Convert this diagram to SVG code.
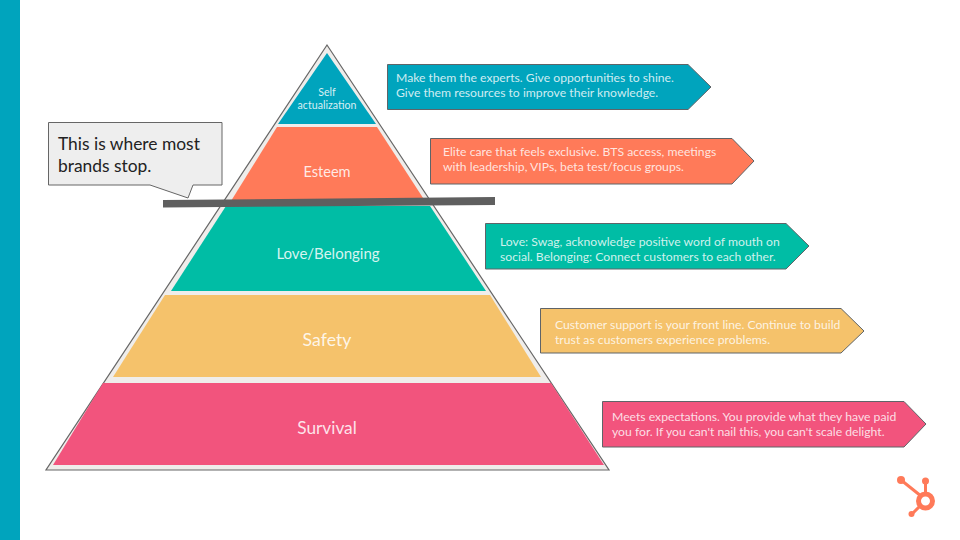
<svg xmlns="http://www.w3.org/2000/svg" width="960" height="540" viewBox="0 0 960 540">
<style>
text{font-family:Lato,"Noto Sans",sans-serif}
.lbl{fill:#fff;text-anchor:middle;fill-opacity:.85}
.ar{stroke:#5f6468;stroke-width:1}
.at{fill:#fff;font-size:12.2px;fill-opacity:.82}
</style>
<rect width="960" height="540" fill="#fff"/>
<rect x="0" y="0" width="20" height="540" fill="#00A4BD"/>
<g id="pyramid-base"><polygon points="327,45 46,470 609,470" fill="#EFEDEB" stroke="#666" stroke-width="1.2"/></g>
<g id="self-actualization"><polygon points="327,53 376,124 278,124" fill="#00A4BD"/><text class="lbl" x="327" y="96" font-size="10.600">Self</text><text class="lbl" x="327" y="109" font-size="10.600">actualization</text></g>
<g id="esteem"><polygon points="277,127 377,127 425,201 231,201" fill="#FF7A59"/><text class="lbl" x="327" y="177" font-size="14.600">Esteem</text></g>
<g id="love-belonging"><polygon points="226,206 430,206 486,291 171,291" fill="#00BDA5"/><text class="lbl" x="328" y="259" font-size="15">Love/Belonging</text></g>
<g id="safety"><polygon points="165,295 490,295 541,377 113,377" fill="#F5C26B"/><text class="lbl" x="327" y="346" font-size="17.700">Safety</text></g>
<g id="survival"><polygon points="103,383 551,383 604,465 53,465" fill="#F2547D"/><text class="lbl" x="327" y="434" font-size="17.300">Survival</text></g>
<g id="callout"><path d="M48.5 122.500H222V185H193L188 198L150 185H48.5Z" fill="#EEEEEE" stroke="#666" stroke-width="1"/><text x="58" y="150" font-size="17.400" fill="#222">This is where most</text><text x="58" y="172" font-size="17.400" fill="#222">brands stop.</text></g>
<g id="connectors"><polygon points="163,200 495,197 495,205 163,207.500" fill="#5F5F5F"/></g>
<g id="note-self"><polygon class="ar" points="387.500,64.500 688,64.500 711,87 688,109.500 387.500,109.500" fill="#00A4BD"/><text class="at" x="396" y="82">Make them the experts. Give opportunities to shine.</text><text class="at" x="396" y="97">Give them resources to improve their knowledge.</text></g>
<g id="note-esteem"><polygon class="ar" points="430.500,138.500 732,138.500 754,161 732,184 430.500,184" fill="#FF7A59"/><text class="at" x="443" y="156">Elite care that feels exclusive. BTS access, meetings</text><text class="at" x="443" y="171">with leadership, VIPs, beta test/focus groups.</text></g>
<g id="note-love"><polygon class="ar" points="485.500,223.500 786,223.500 809,246 786,269 485.500,269" fill="#00BDA5"/><text class="at" x="500" y="246">Love: Swag, acknowledge positive word of mouth on</text><text class="at" x="500" y="261">social. Belonging: Connect customers to each other.</text></g>
<g id="note-safety"><polygon class="ar" points="540.500,308.500 841,308.500 864,331 841,353 540.500,353" fill="#F5C26B"/><text class="at" x="555" y="329">Customer support is your front line. Continue to build</text><text class="at" x="555" y="344">trust as customers experience problems.</text></g>
<g id="note-survival"><polygon class="ar" points="602.500,401.500 904,401.500 926,424 904,447 602.500,447" fill="#F2547D"/><text class="at" x="612" y="421">Meets expectations. You provide what they have paid</text><text class="at" x="612" y="436">you for. If you can't nail this, you can't scale delight.</text></g>
<g id="logo" fill="#FF7A59" stroke="none"><circle cx="925.500" cy="501" r="7" fill="none" stroke="#FF7A59" stroke-width="5"/><path d="M901 480L921 496M925.500 482V493M912 514L920 506" stroke="#FF7A59" stroke-width="3" fill="none"/><circle cx="901" cy="480" r="4"/><circle cx="925.500" cy="481" r="3.500"/><circle cx="911.500" cy="514" r="3"/></g>
</svg>
